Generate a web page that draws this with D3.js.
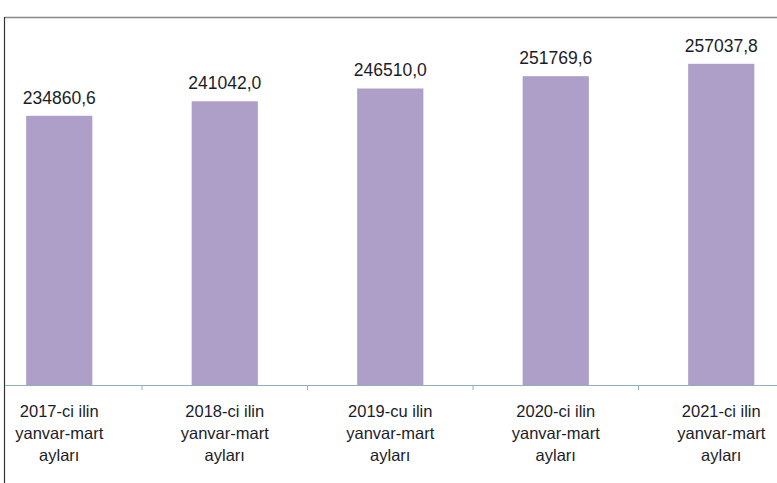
<!DOCTYPE html>
<html><head><meta charset="utf-8">
<script src="https://cdn.jsdelivr.net/npm/d3@7"></script>
<style>body{margin:0;background:#fff}svg{display:block}</style>
</head><body>
<script>
const categories = [
  ["2017-ci ilin","yanvar-mart","ayları"],
  ["2018-ci ilin","yanvar-mart","ayları"],
  ["2019-cu ilin","yanvar-mart","ayları"],
  ["2020-ci ilin","yanvar-mart","ayları"],
  ["2021-ci ilin","yanvar-mart","ayları"]
];
const values = [234860.6, 241042.0, 246510.0, 251769.6, 257037.8];
const valueLabels = ["234860,6","241042,0","246510,0","251769,6","257037,8"];
const yDomain = [120000, 280000];

const W = 777, H = 483;
const svg = d3.select("body").append("svg").attr("width", W).attr("height", H);

const x = d3.scaleBand().domain(d3.range(values.length)).range([-23.5, 804]).paddingInner(0.6).paddingOuter(0.3);
const y = d3.scaleLinear().domain(yDomain).range([385, 10]);

// border
svg.append("line").attr("x1",4.5).attr("x2",W).attr("y1",17.5).attr("y2",17.5).attr("stroke","#888").attr("stroke-width",1.5);
svg.append("line").attr("x1",4.5).attr("x2",4.5).attr("y1",17).attr("y2",H).attr("stroke","#333").attr("stroke-width",1.2);

// bars
svg.selectAll("rect.bar").data(values).join("rect").attr("class","bar")
  .attr("x",(d,i)=>x(i)).attr("width",x.bandwidth())
  .attr("y",d=>y(d)).attr("height",d=>y(yDomain[0])-y(d))
  .attr("fill","#ae9fc9");

// axis
const step = x.step();
svg.append("line").attr("x1",5).attr("x2",W).attr("y1",385.5).attr("y2",385.5).attr("stroke","#8fb0c0").attr("stroke-width",1.2);
svg.selectAll("line.tick").data(d3.range(1, values.length)).join("line").attr("class","tick")
  .attr("x1",i=>x(i)-step*x.paddingInner()/2).attr("x2",i=>x(i)-step*x.paddingInner()/2)
  .attr("y1",385).attr("y2",390).attr("stroke","#8fb0c0");

// value labels
svg.selectAll("text.val").data(values).join("text").attr("class","val")
  .attr("x",(d,i)=>x(i)+x.bandwidth()/2).attr("y",d=>y(d)-12)
  .attr("text-anchor","middle").attr("font-family","Liberation Sans, Arial, sans-serif")
  .attr("font-size","17.5px").attr("fill","#1c1c28")
  .text((d,i)=>valueLabels[i]);

// category labels
const cat = svg.selectAll("text.cat").data(categories).join("text").attr("class","cat")
  .attr("text-anchor","middle").attr("font-family","Liberation Sans, Arial, sans-serif")
  .attr("font-size","16.5px").attr("fill","#1c1c28");
cat.each(function(lines,i){
  d3.select(this).selectAll("tspan").data(lines).join("tspan")
    .attr("x", x(i)+x.bandwidth()/2).attr("y",(l,j)=>417+j*22).text(l=>l);
});
</script>
</body></html>
